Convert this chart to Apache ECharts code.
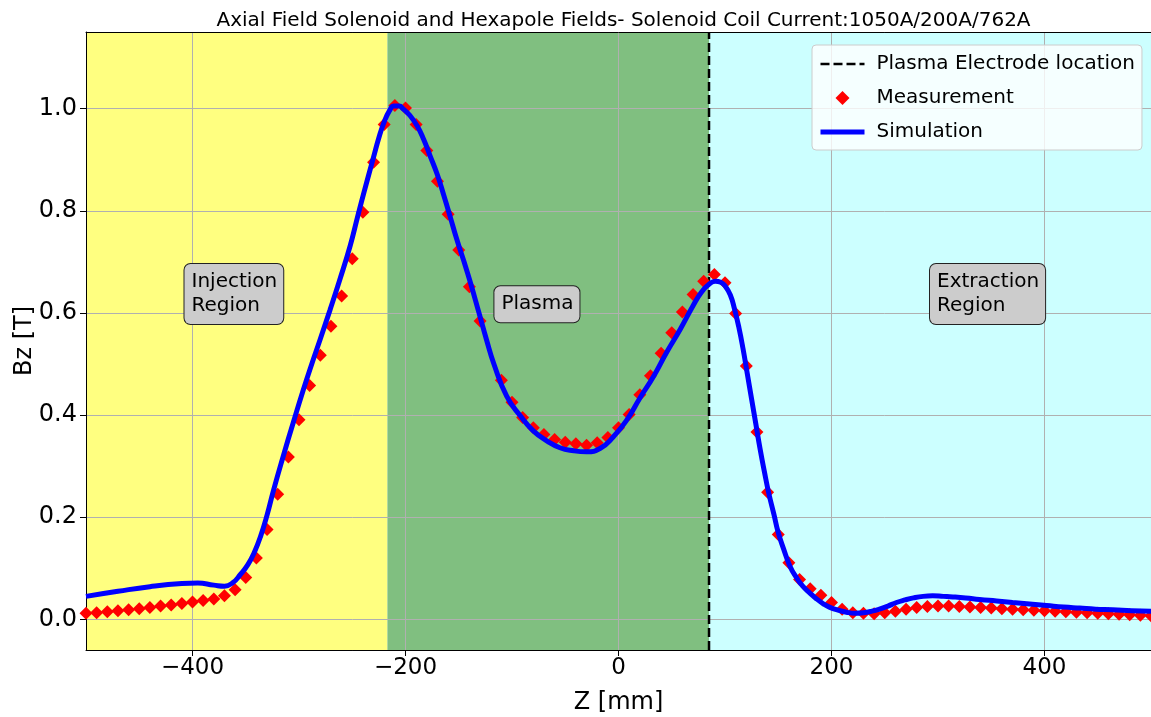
<!DOCTYPE html>
<html>
<head>
<meta charset="utf-8">
<script src="https://cdn.jsdelivr.net/npm/echarts@6/dist/echarts.min.js"></script>
<style>
  html, body { margin: 0; padding: 0; background: #ffffff; }
  #chart { width: 1151px; height: 717px; }
</style>
</head>
<body>
<div id="chart"></div>
<script>
// Measured axial field (Z in mm, Bz in T); no reading at Z = -120 mm
const measZ = [
  -500, -490, -480, -470, -460, -450, -440, -430, -420, -410,
  -400, -390, -380, -370, -360, -350, -340, -330, -320, -310,
  -300, -290, -280, -270, -260, -250, -240, -230, -220, -210,
  -200, -190, -180, -170, -160, -150, -140, -130, -110, -100,
  -90, -80, -70, -60, -50, -40, -30, -20, -10, 0,
  10, 20, 30, 40, 50, 60, 70, 80, 90, 100,
  110, 120, 130, 140, 150, 160, 170, 180, 190, 200,
  210, 220, 230, 240, 250, 260, 270, 280, 290, 300,
  310, 320, 330, 340, 350, 360, 370, 380, 390, 400,
  410, 420, 430, 440, 450, 460, 470, 480, 490, 500
];
const measBz = [
  0.012, 0.013, 0.015, 0.017, 0.019, 0.021, 0.023, 0.026, 0.028, 0.031,
  0.034, 0.037, 0.040, 0.046, 0.058, 0.082, 0.120, 0.176, 0.245, 0.318,
  0.391, 0.458, 0.517, 0.574, 0.633, 0.706, 0.797, 0.895, 0.969, 1.006,
  1.001, 0.969, 0.918, 0.858, 0.793, 0.723, 0.651, 0.584, 0.468, 0.425,
  0.395, 0.375, 0.362, 0.352, 0.347, 0.344, 0.341, 0.346, 0.356, 0.375,
  0.401, 0.440, 0.477, 0.521, 0.561, 0.602, 0.636, 0.662, 0.675, 0.659,
  0.599, 0.496, 0.367, 0.249, 0.166, 0.111, 0.078, 0.060, 0.047, 0.033,
  0.020, 0.013, 0.012, 0.011, 0.013, 0.016, 0.020, 0.023, 0.025, 0.026,
  0.026, 0.025, 0.024, 0.023, 0.022, 0.021, 0.020, 0.019, 0.018, 0.017,
  0.016, 0.015, 0.014, 0.013, 0.012, 0.011, 0.010, 0.009, 0.008, 0.007
];

// Simulated axial field along the same axis
const simZ = [
  -500, -470, -440, -410, -395, -380, -370, -362, -355, -348,
  -342, -336, -330, -324, -315, -305, -296, -288, -280, -271,
  -262, -252, -245, -239, -230, -225, -220, -215, -211, -206,
  -202, -196, -189, -183, -177, -170, -164, -158, -152, -145,
  -139, -131, -124, -117, -105, -92, -80, -67, -55, -42,
  -30, -17, -5, 8, 20, 33, 45, 58, 70, 78,
  85, 91, 96, 100, 105, 109, 113, 117, 121, 125,
  129, 133, 137, 141, 146, 150, 155, 161, 167, 173,
  180, 186, 192, 198, 206, 214, 222, 230, 238, 245,
  253, 261, 269, 277, 286, 295, 305, 314, 326, 339,
  355, 370, 386, 402, 418, 433, 448, 464, 482, 500
];
const simBz = [
  0.045, 0.055, 0.064, 0.070, 0.071, 0.067, 0.065, 0.072, 0.088, 0.107,
  0.131, 0.163, 0.204, 0.252, 0.318, 0.388, 0.449, 0.500, 0.549, 0.605,
  0.663, 0.731, 0.788, 0.836, 0.905, 0.943, 0.974, 0.996, 1.005, 1.005,
  0.999, 0.987, 0.966, 0.940, 0.908, 0.870, 0.830, 0.788, 0.745, 0.700,
  0.659, 0.600, 0.548, 0.500, 0.437, 0.398, 0.369, 0.349, 0.336, 0.330,
  0.328, 0.335, 0.357, 0.391, 0.433, 0.476, 0.522, 0.568, 0.614, 0.641,
  0.656, 0.662, 0.660, 0.653, 0.635, 0.607, 0.572, 0.529, 0.480, 0.431,
  0.382, 0.333, 0.289, 0.248, 0.205, 0.170, 0.138, 0.104, 0.082, 0.065,
  0.051, 0.040, 0.031, 0.024, 0.018, 0.014, 0.012, 0.013, 0.016, 0.020,
  0.026, 0.033, 0.038, 0.042, 0.045, 0.046, 0.045, 0.044, 0.042, 0.039,
  0.036, 0.033, 0.030, 0.027, 0.024, 0.022, 0.020, 0.019, 0.017, 0.016
];

// Region boundaries along Z (mm) and the plasma electrode position
const regionEdges = [-500, -217, 85, 500];
const electrodeZ = 85;

// Region annotations: text, anchor Z (left edge of text), anchor Bz
const regionText = ['Injection\nRegion', 'Plasma', 'Extraction\nRegion'];
const regionTextZ = [-400, -109, 300];
const regionTextBz = [0.637, 0.617, 0.637];

// Axis ranges and ticks
const zRange = [-500, 500];
const bzRange = [-0.06, 1.15];
const zTicks = [-400, -200, 0, 200, 400];
const bzTicks = [0.0, 0.2, 0.4, 0.6, 0.8, 1.0];

const FONT = 'DejaVu Sans';
const bandColors = ['#ffff80', '#80bf80', '#ccffff'];

const measData = measZ.map((z, i) => [z, measBz[i]]);
const simData = simZ.map((z, i) => [z, simBz[i]]);
const bandData = regionEdges.slice(0, -1).map((z, i) => [z, regionEdges[i + 1], bzRange[0], bzRange[1]]);
const labelData = regionText.map((t, i) => ({ value: [regionTextZ[i], regionTextBz[i]], name: t }));

const chart = echarts.init(document.getElementById('chart'), null, { renderer: 'canvas' });

// legend line entries carry no marker
const noMarker = { color: 'rgba(0,0,0,0)', borderWidth: 0, opacity: 0 };

const option = {
  animation: false,
  backgroundColor: '#ffffff',
  textStyle: { fontFamily: FONT, color: '#000' },
  title: {
    text: 'Axial Field Solenoid and Hexapole Fields- Solenoid Coil Current:1050A/200A/762A',
    left: 618.5,
    top: 6,
    textAlign: 'center',
    textStyle: { fontFamily: FONT, fontSize: 20, fontWeight: 'normal', color: '#000' }
  },
  grid: { left: 86, right: 0, top: 32, bottom: 67, containLabel: false, outerBoundsMode: 'none' },
  legend: {
    orient: 'vertical',
    left: 812,
    top: 45,
    padding: [9, 7, 8, 6],
    itemGap: 14,
    itemWidth: 44,
    itemHeight: 14,
    symbolKeepAspect: true,
    backgroundColor: 'rgba(255,255,255,0.8)',
    borderColor: '#cccccc',
    borderWidth: 1,
    borderRadius: 4,
    textStyle: { fontFamily: FONT, fontSize: 20, color: '#000', padding: [0, 0, 0, 7] },
    data: [
      { name: 'Plasma Electrode location', itemStyle: noMarker,
        lineStyle: { width: 2.5, type: [9, 4], color: '#000000' } },
      { name: 'Measurement', icon: 'path://M7,0 L14,7 L7,14 L0,7 Z' },
      { name: 'Simulation', itemStyle: noMarker,
        lineStyle: { width: 5, color: '#0000ff' } }
    ]
  },
  xAxis: [{
    type: 'value',
    min: zRange[0],
    max: zRange[1],
    z: 1,
    name: 'Z [mm]',
    nameLocation: 'middle',
    nameGap: 41,
    nameMoveOverlap: false,
    nameTextStyle: { fontFamily: FONT, fontSize: 24, color: '#000' },
    axisLine: { show: true, onZero: false, lineStyle: { color: '#000', width: 1 } },
    axisTick: { show: true, length: 6, lineStyle: { color: '#000', width: 1 }, customValues: zTicks },
    axisLabel: {
      fontFamily: FONT, fontSize: 23, color: '#000', margin: 7,
      customValues: zTicks,
      formatter: v => String(v).replace('-', '\u2212')
    },
    splitLine: { show: true, lineStyle: { color: '#b0b0b0', width: 1 } }
  }, {
    type: 'value',
    position: 'top',
    min: zRange[0],
    max: zRange[1],
    z: 1,
    axisLine: { show: true, onZero: false, lineStyle: { color: '#000', width: 1 } },
    axisTick: { show: false },
    axisLabel: { show: false },
    splitLine: { show: false }
  }],
  yAxis: {
    type: 'value',
    min: bzRange[0],
    max: bzRange[1],
    z: 1,
    name: 'Bz [T]',
    nameLocation: 'middle',
    nameGap: 49,
    nameMoveOverlap: false,
    nameTextStyle: { fontFamily: FONT, fontSize: 24, color: '#000' },
    axisLine: { show: true, onZero: false, lineStyle: { color: '#000', width: 1 } },
    axisTick: { show: true, length: 6, lineStyle: { color: '#000', width: 1 }, customValues: bzTicks },
    axisLabel: {
      fontFamily: FONT, fontSize: 24, color: '#000', margin: 9,
      customValues: bzTicks,
      formatter: v => v.toFixed(1)
    },
    splitLine: { show: true, lineStyle: { color: '#b0b0b0', width: 1 } }
  },
  series: [
    {
      // shaded regions: injection, plasma, extraction
      name: 'regions',
      type: 'custom',
      z: 0,
      silent: true,
      data: bandData,
      encode: { x: [0, 1], y: [2, 3] },
      renderItem: (params, api) => {
        const p0 = api.coord([api.value(0), api.value(3)]);
        const p1 = api.coord([api.value(1), api.value(2)]);
        return {
          type: 'rect',
          shape: { x: p0[0], y: p0[1], width: p1[0] - p0[0], height: p1[1] - p0[1] },
          style: { fill: bandColors[params.dataIndex] }
        };
      }
    },
    {
      name: 'Plasma Electrode location',
      type: 'line',
      z: 2,
      symbol: 'none',
      data: [[electrodeZ, bzRange[0]], [electrodeZ, bzRange[1]]],
      lineStyle: { color: '#000000', width: 2.5, type: [9, 4] },
      itemStyle: { color: '#000000' }
    },
    {
      name: 'Measurement',
      type: 'scatter',
      z: 3,
      symbol: 'diamond',
      symbolSize: 13,
      data: measData,
      itemStyle: { color: '#ff0000', opacity: 1 }
    },
    {
      name: 'Simulation',
      type: 'line',
      z: 4,
      symbol: 'none',
      smooth: 0.5,
      data: simData,
      lineStyle: { color: '#0000ff', width: 5 },
      itemStyle: { color: '#0000ff' }
    },
    {
      name: 'labels',
      type: 'scatter',
      z: 5,
      silent: true,
      symbolSize: 0,
      data: labelData,
      itemStyle: { opacity: 1 },
      label: {
        show: true,
        position: 'right',
        distance: 0,
        offset: [-8, 0],
        formatter: p => p.name,
        fontFamily: FONT,
        fontSize: 20,
        lineHeight: 24,
        color: '#000',
        opacity: 1,
        align: 'left',
        backgroundColor: '#cccccc',
        borderColor: '#222222',
        borderWidth: 1,
        borderRadius: 6,
        padding: [6, 6, 6, 7]
      }
    }
  ]
};

chart.setOption(option);
</script>
</body>
</html>
